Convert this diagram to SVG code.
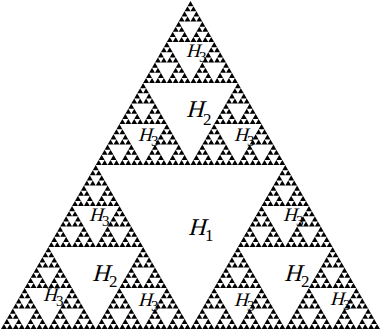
<svg xmlns="http://www.w3.org/2000/svg" xmlns:xlink="http://www.w3.org/1999/xlink" width="381" height="332" viewBox="0 0 381 332">
<style>
.tri{fill:#000}
text{font-family:"Liberation Serif","Times New Roman",serif;fill:#000}
.hb{font-size:24px}
.sb{font-size:17px}
.hs{font-size:19px}
.ss{font-size:15px}
</style>
<defs>
<polygon id="L0" class="tri" points="0,0 -2.96094,5.125 2.96094,5.125"/>
<g id="L1"><use href="#L0"/><use href="#L0" x="-2.96094" y="5.125"/><use href="#L0" x="2.96094" y="5.125"/></g>
<g id="L2"><use href="#L1"/><use href="#L1" x="-5.92188" y="10.25"/><use href="#L1" x="5.92188" y="10.25"/></g>
<g id="L3"><use href="#L2"/><use href="#L2" x="-11.84375" y="20.5"/><use href="#L2" x="11.84375" y="20.5"/></g>
<g id="L4"><use href="#L3"/><use href="#L3" x="-23.6875" y="41"/><use href="#L3" x="23.6875" y="41"/></g>
<g id="L5"><use href="#L4"/><use href="#L4" x="-47.375" y="82"/><use href="#L4" x="47.375" y="82"/></g>
<g id="L6"><use href="#L5"/><use href="#L5" x="-94.75" y="164"/><use href="#L5" x="94.75" y="164"/></g>
</defs>
<rect width="381" height="332" fill="#fff"/>
<g id="sierpinski"><use href="#L6" x="190.5" y="1"/></g>
<g id="labels">
<text class="hb" transform="translate(188,235) skewX(-15)">H</text><text class="sb" x="205" y="241">1</text>
<text class="hb" transform="translate(186,117) skewX(-15)">H</text><text class="sb" x="203" y="125">2</text>
<text class="hb" transform="translate(92,281) skewX(-15)">H</text><text class="sb" x="109" y="287">2</text>
<text class="hb" transform="translate(284,281) skewX(-15)">H</text><text class="sb" x="301" y="287">2</text>
<text class="hs" transform="translate(186,57) skewX(-15)">H</text><text class="ss" x="199" y="62">3</text>
<text class="hs" transform="translate(138,141) skewX(-15)">H</text><text class="ss" x="151" y="146">3</text>
<text class="hs" transform="translate(234,141) skewX(-15)">H</text><text class="ss" x="247" y="146">3</text>
<text class="hs" transform="translate(89,221) skewX(-15)">H</text><text class="ss" x="102" y="226">3</text>
<text class="hs" transform="translate(283,221) skewX(-15)">H</text><text class="ss" x="296" y="226">3</text>
<text class="hs" transform="translate(43,301) skewX(-15)">H</text><text class="ss" x="56" y="306">3</text>
<text class="hs" transform="translate(138,306) skewX(-15)">H</text><text class="ss" x="151" y="311">3</text>
<text class="hs" transform="translate(234,306) skewX(-15)">H</text><text class="ss" x="247" y="311">3</text>
<text class="hs" transform="translate(330,305) skewX(-15)">H</text><text class="ss" x="343" y="310">3</text>
</g>
</svg>
